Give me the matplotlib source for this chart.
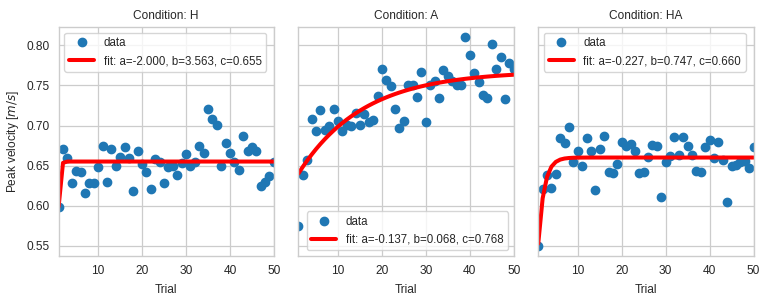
import numpy as np
import matplotlib
matplotlib.use("Agg")
import matplotlib.pyplot as plt
import seaborn as sns

sns.set_style("whitegrid")
plt.rcParams["font.family"] = ["Liberation Sans", "DejaVu Sans"]

trials = np.arange(1, 51)

# peak velocity per trial
vel_h = [0.598, 0.671, 0.660, 0.628, 0.643, 0.642, 0.616, 0.628, 0.628, 0.648,
         0.675, 0.630, 0.671, 0.649, 0.661, 0.673, 0.660, 0.618, 0.668, 0.652,
         0.642, 0.621, 0.658, 0.654, 0.628, 0.648, 0.650, 0.638, 0.653, 0.665,
         0.649, 0.655, 0.674, 0.666, 0.721, 0.708, 0.701, 0.649, 0.678, 0.666,
         0.655, 0.645, 0.687, 0.668, 0.673, 0.668, 0.624, 0.630, 0.637, 0.655]

vel_a = [0.574, 0.638, 0.657, 0.708, 0.693, 0.719, 0.694, 0.699, 0.720, 0.706,
         0.693, 0.701, 0.700, 0.715, 0.701, 0.714, 0.705, 0.707, 0.737, 0.770,
         0.757, 0.749, 0.721, 0.697, 0.706, 0.751, 0.750, 0.735, 0.767, 0.704,
         0.750, 0.755, 0.734, 0.769, 0.762, 0.755, 0.751, 0.750, 0.810, 0.788,
         0.766, 0.754, 0.738, 0.734, 0.802, 0.771, 0.786, 0.733, 0.778, 0.771]

vel_ha = [0.550, 0.621, 0.638, 0.622, 0.640, 0.684, 0.678, 0.698, 0.655, 0.668,
          0.650, 0.684, 0.668, 0.620, 0.671, 0.687, 0.642, 0.641, 0.652, 0.680,
          0.674, 0.677, 0.668, 0.641, 0.642, 0.661, 0.676, 0.674, 0.611, 0.655,
          0.662, 0.686, 0.663, 0.686, 0.674, 0.663, 0.643, 0.642, 0.673, 0.682,
          0.659, 0.680, 0.657, 0.605, 0.650, 0.651, 0.654, 0.656, 0.647, 0.673]

conditions = ["H", "A", "HA"]
velocities = [vel_h, vel_a, vel_ha]
# fit parameters a, b, c shown in the legends
fit_a = [-2.000, -0.137, -0.227]
fit_b = [3.563, 0.068, 0.747]
fit_c = [0.655, 0.768, 0.660]
legend_loc = ["upper left", "lower right", "upper left"]


def func(x, a, b, c):
    return a * np.exp(-b * x) + c


fig, axes = plt.subplots(1, 3, figsize=(7.65, 2.97), dpi=100, sharey=True)
fig.subplots_adjust(left=0.0766, right=0.985, bottom=0.138, top=0.909, wspace=0.114)

for i, ax in enumerate(axes):
    ax.plot(trials, velocities[i], "o", color="#1f77b4", ms=6, label="data")
    ax.plot(trials, func(trials, fit_a[i], fit_b[i], fit_c[i]), "r-", lw=2.9,
            label="fit: a=%5.3f, b=%5.3f, c=%5.3f" % (fit_a[i], fit_b[i], fit_c[i]))
    ax.set_xlim(1, 50)
    ax.set_xticks([10, 20, 30, 40, 50])
    ax.set_title("Condition: " + conditions[i], fontsize=8.6)
    ax.set_xlabel("Trial", fontsize=8.6, labelpad=5)
    ax.tick_params(labelsize=8.6, pad=3)
    for s in ax.spines.values():
        s.set_linewidth(1.0)
    ax.grid(linewidth=0.9)
    ax.legend(loc=legend_loc[i], fontsize=8.3, handlelength=2.2)

axes[0].set_ylabel("Peak velocity [$m/s$]", fontsize=8.6)

plt.savefig("out.png", dpi=100)
